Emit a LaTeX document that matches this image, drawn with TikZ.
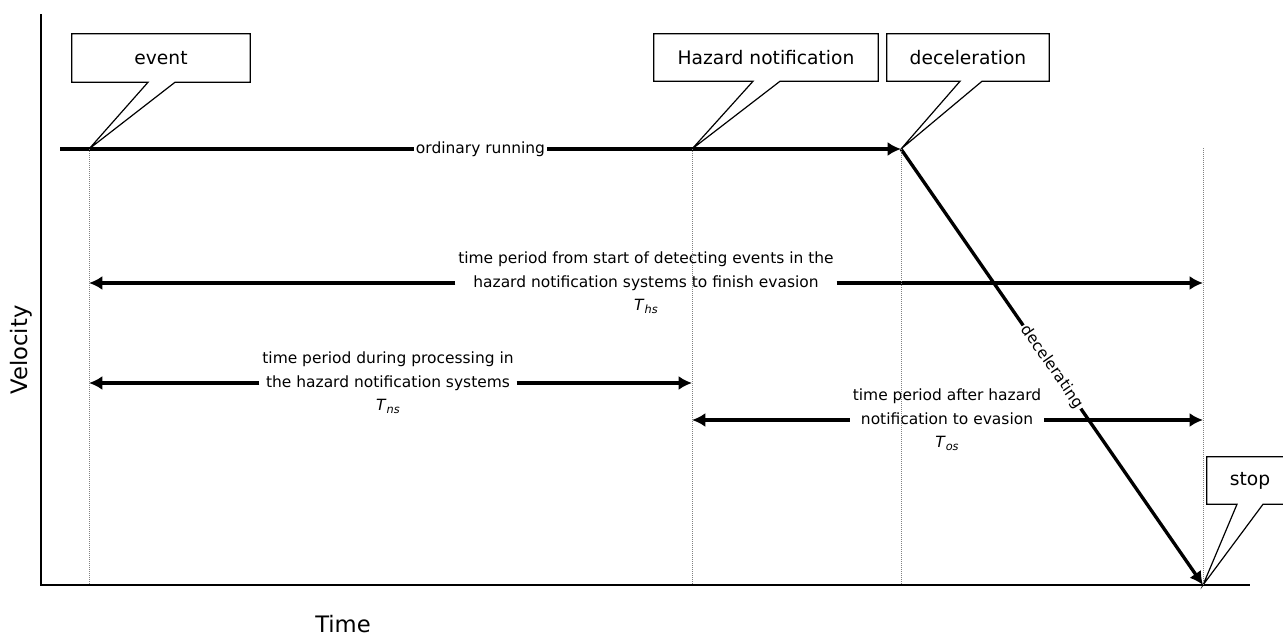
\documentclass[tikz,border=0pt]{standalone}
\usepackage{fontspec}
\setmainfont{DejaVu Sans}
\usetikzlibrary{arrows.meta, calc, positioning}

\begin{document}
\begin{tikzpicture}[x=0.75pt, y=-0.75pt,
    run line/.style={line width=2.5pt, -{Latex[length=10pt,width=10.5pt]}},
    period tip/.style={line width=2.5pt, -{Latex[length=10pt,width=10.5pt]}},
    guide/.style={gray, densely dotted, line width=0.5pt},
    axis/.style={line width=1.1pt},
    call box/.style={inner sep=0pt, font=\fontsize{14}{16}\selectfont},
    call line/.style={line width=0.9pt, line join=miter},
    note/.style={align=center, inner sep=2pt, font=\fontsize{11.6}{17.6}\selectfont},
    on line/.style={fill=white, inner sep=1.5pt, font=\fontsize{11.6}{14}\selectfont},
    axis label/.style={font=\fontsize{17}{20}\selectfont}]

 \useasboundingbox (0,0) rectangle (1283,636);
 \clip (0,0) rectangle (1283,636);

 % axes
 \coordinate (ytop) at (41,14);
 \coordinate (origin) at (41,585);
 \coordinate (xend) at (1250,585);
 \draw[axis] (ytop) -- (origin) -- (xend);
 \node[axis label, rotate=90] (vel) at (21,350) {Velocity};
 \node[axis label, anchor=base] (time) at (343,632) {Time};

 % points on the curve
 \coordinate (start) at (60,149);
 \coordinate (ev) at (89,149);
 \coordinate (hz) at (692,149);
 \coordinate (dc) at (901,149);
 \coordinate (sttop) at (1203,148);
 \coordinate (st) at (1203,585);

 \draw[run line] (start) -- node[on line] {ordinary running} (dc);
 \draw[run line] (dc) -- node[on line, sloped] {decelerating} (st);

 % time periods
 \coordinate (ths l) at (ev |- 0,283);
 \coordinate (ths r) at (st |- 0,283);
 \node[note] (ths) at (646,283) {time period from start of detecting events in the\\
   hazard notification systems to finish evasion\\
   \textit{T}\raisebox{-0.35ex}{\fontsize{8.5}{9}\selectfont\textit{hs}}};
 \draw[period tip] (ths.west) -- (ths l);
 \draw[period tip] (ths.east) -- (ths r);

 \coordinate (tns l) at (ev |- 0,383);
 \coordinate (tns r) at (hz |- 0,383);
 \node[note] (tns) at (388,383) {time period during processing in\\
   the hazard notification systems\\
   \textit{T}\raisebox{-0.35ex}{\fontsize{8.5}{9}\selectfont\textit{ns}}};
 \draw[period tip] (tns.west) -- (tns l);
 \draw[period tip] (tns.east) -- (tns r);

 \coordinate (tos l) at (hz |- 0,420);
 \coordinate (tos r) at (st |- 0,420);
 \node[note] (tos) at (947,420) {time period after hazard\\
   notification to evasion\\
   \textit{T}\raisebox{-0.35ex}{\fontsize{8.5}{9}\selectfont\textit{os}}};
 \draw[period tip] (tos.west) -- (tos l);
 \draw[period tip] (tos.east) -- (tos r);

 % callouts
 \node[call box, minimum width=133.5pt, minimum height=36pt] (evbox) at (161,58) {event};
 \node[call box, minimum width=168pt, minimum height=35.25pt] (hzbox) at (766,57.5) {Hazard notification};
 \node[call box, minimum width=121.5pt, minimum height=35.25pt] (dcbox) at (968,57.5) {deceleration};
 \node[call box, minimum width=64.5pt, minimum height=35.25pt] (stbox) at (1250,480.5) {stop};

 \draw[call line] ($(evbox.south)+(14,0)$) -- (evbox.south east) -- (evbox.north east)
   -- (evbox.north west) -- (evbox.south west) -- ($(evbox.south)+(-13,0)$) -- (ev) -- cycle;
 \draw[call line] ($(hzbox.south)+(14,0)$) -- (hzbox.south east) -- (hzbox.north east)
   -- (hzbox.north west) -- (hzbox.south west) -- ($(hzbox.south)+(-13,0)$) -- (hz) -- cycle;
 \draw[call line] ($(dcbox.south)+(14,0)$) -- (dcbox.south east) -- (dcbox.north east)
   -- (dcbox.north west) -- (dcbox.south west) -- ($(dcbox.south)+(-8,0)$) -- (dc) -- cycle;
 \draw[call line] ($(stbox.south)+(13,0)$) -- (stbox.south east) -- (stbox.north east)
   -- (stbox.north west) -- (stbox.south west) -- ($(stbox.south)+(-13,0)$) -- (st) -- cycle;

 % guides
 \draw[guide] (ev) -- (ev |- origin);
 \draw[guide] (hz) -- (hz |- origin);
 \draw[guide] (dc) -- (dc |- origin);
 \draw[guide] (sttop) -- (st);

\end{tikzpicture}
\end{document}
